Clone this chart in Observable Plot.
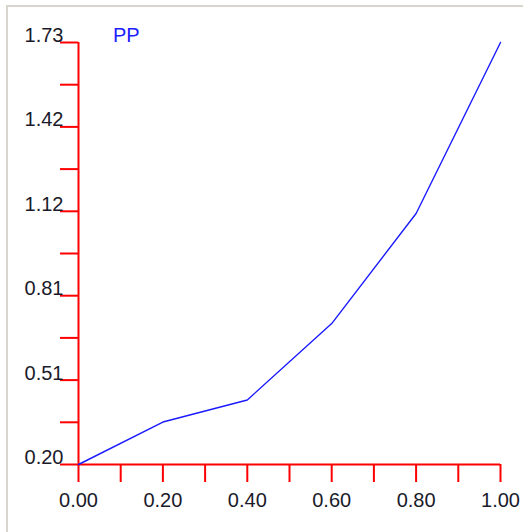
<!DOCTYPE html>
<html>
<head>
<meta charset="utf-8">
<script src="https://cdn.jsdelivr.net/npm/d3@7"></script>
<script src="https://cdn.jsdelivr.net/npm/@observablehq/plot@0.6"></script>
<style>
  html, body { margin: 0; padding: 0; background: #fff; }
  #wrap { position: relative; width: 523px; height: 532px; overflow: hidden; background: #fff; }
  #frame { position: absolute; left: 6px; top: 5px; width: 600px; height: 600px;
           border-top: 2px solid #d8d5cf; border-left: 2px solid #d8d5cf; box-sizing: border-box; }
  #chart { position: absolute; left: 0; top: 0; }
  #legend { position: absolute; left: 113px; top: 26px; font-family: "Liberation Sans", Arial, sans-serif;
            font-size: 20px; line-height: 19px; color: #2020ff; }
</style>
</head>
<body>
<div id="wrap">
  <div id="frame"></div>
  <div id="chart"></div>
  <div id="legend">PP</div>
</div>
<script>
const seriesName = "PP";
const xValues = [0.0, 0.2, 0.4, 0.6, 0.8, 1.0];
const ppValues = [0.20, 0.354, 0.434, 0.711, 1.11, 1.73];
const xTicksMajor = [0.0, 0.2, 0.4, 0.6, 0.8, 1.0];
const xTicksAll = [0.0, 0.1, 0.2, 0.3, 0.4, 0.5, 0.6, 0.7, 0.8, 0.9, 1.0];
const yTicksMajor = [0.20, 0.506, 0.812, 1.118, 1.424, 1.73];
const yTicksAll = [0.20, 0.353, 0.506, 0.659, 0.812, 0.965, 1.118, 1.271, 1.424, 1.577, 1.73];

document.getElementById("legend").textContent = seriesName;
const data = xValues.map((x, i) => ({x, y: ppValues[i]}));
const fmt = d3.format(".2f");
const font = "Liberation Sans, Arial, sans-serif";

const chart = Plot.plot({
  width: 523,
  height: 532,
  marginLeft: 78,
  marginRight: 23,
  marginTop: 42,
  marginBottom: 68,
  style: {fontFamily: font, fontSize: "20px", background: "transparent"},
  x: {domain: [0, 1], axis: null, label: null},
  y: {domain: [0.20, 1.73], axis: null, label: null},
  marks: [
    Plot.axisY(yTicksAll, {anchor: "left", tickSize: 18, stroke: "red", strokeWidth: 2, tickFormat: () => "", label: null}),
    Plot.axisY(yTicksMajor, {anchor: "left", tickSize: 0, tickPadding: 15, dy: -7,
      fill: "#1a1a2a", fontSize: 20, tickFormat: fmt, label: null}),
    Plot.axisX(xTicksAll, {anchor: "bottom", tickSize: 18, stroke: "red", strokeWidth: 2, tickFormat: () => "", label: null}),
    Plot.axisX(xTicksMajor, {anchor: "bottom", tickSize: 0, tickPadding: 28,
      fill: "#1a1a2a", fontSize: 20, tickFormat: fmt, label: null}),
    Plot.ruleX([0], {y1: 0.20, y2: 1.73, stroke: "red", strokeWidth: 2}),
    Plot.ruleY([0.20], {x1: 0, x2: 1, stroke: "red", strokeWidth: 2}),
    Plot.line(data, {x: "x", y: "y", stroke: "#1a1aff", strokeWidth: 1.4})
  ]
});
document.getElementById("chart").appendChild(chart);
</script>
</body>
</html>
